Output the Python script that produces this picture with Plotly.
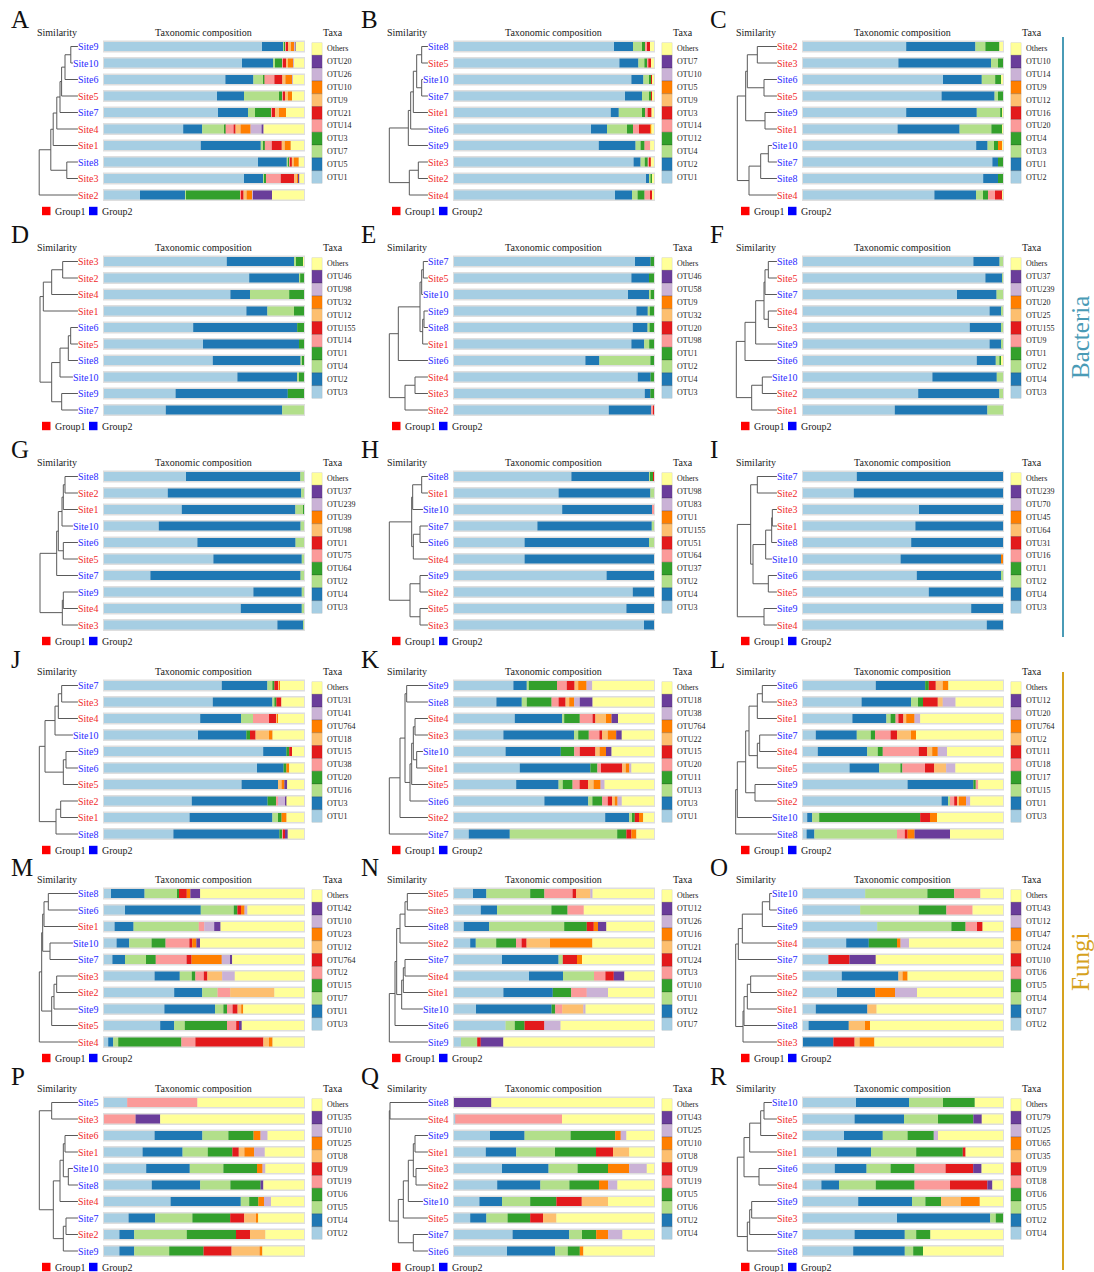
import plotly.graph_objects as go

W, H = 1094, 1272

# stacking colours: first taxon (bottom of the key) ... last = Others
PALETTE = ["#a6cee3", "#1f78b4", "#b2df8a", "#33a02c", "#fb9a99", "#e31a1c",
           "#fdbf6f", "#ff7f00", "#cab2d6", "#6a3d9a", "#ffff99"]

GROUP1 = ["Site1", "Site2", "Site3", "Site4", "Site5"]
P_GROUP1 = ["Site1", "Site2", "Site3", "Site4", "Site6"]

# ---------------- Bacteria ----------------
A_SITES = ["Site9", "Site10", "Site6", "Site5", "Site7", "Site4", "Site1", "Site8", "Site3", "Site2"]
A_TAXA = ["OTU1", "OTU5", "OTU7", "OTU3", "OTU14", "OTU21", "OTU9", "OTU10", "OTU26", "OTU20", "Others"]
A_VALUES = [
    [79.0, 10.5, 0.5, 0.5, 0.5, 1.0, 1.5, 1.5, 0.5, 0.3, 4.2],
    [69.0, 15.5, 1.0, 3.5, 0.5, 1.5, 1.0, 2.5, 0.5, 0.0, 5.0],
    [60.7, 14.0, 5.0, 0.5, 5.0, 4.0, 1.5, 3.5, 0.3, 0.0, 5.5],
    [56.5, 13.5, 17.5, 1.5, 0.5, 1.0, 1.5, 2.0, 0.0, 0.0, 6.0],
    [57.0, 15.0, 3.5, 8.0, 0.5, 1.5, 2.0, 3.5, 0.0, 0.0, 9.0],
    [39.6, 9.5, 11.0, 0.7, 4.0, 1.0, 2.5, 5.0, 5.5, 1.0, 20.2],
    [48.4, 30.0, 1.5, 0.5, 3.5, 5.0, 1.5, 3.0, 0.0, 0.0, 6.6],
    [77.0, 14.4, 1.0, 0.5, 0.5, 0.5, 1.0, 2.5, 0.0, 0.0, 2.6],
    [70.0, 9.5, 0.5, 1.0, 7.4, 6.7, 1.5, 0.5, 0.0, 0.5, 2.4],
    [18.0, 22.5, 0.5, 27.0, 0.5, 1.3, 1.5, 3.0, 0.2, 9.5, 16.0],
]
A_TREE = [1.02, [0.73, [0.67, [0.58, [0.50, [0.46, [0.375, [0.23, "Site9", "Site10"], "Site6"], "Site5"],
                                     "Site7"], "Site4"], "Site1"], [0.33, "Site8", "Site3"]], "Site2"]

B_SITES = ["Site8", "Site5", "Site10", "Site7", "Site1", "Site6", "Site9", "Site3", "Site2", "Site4"]
B_TAXA = ["OTU1", "OTU2", "OTU4", "OTU12", "OTU14", "OTU3", "OTU9", "OTU5", "OTU10", "OTU7", "Others"]
B_VALUES = [
    [80.0, 9.5, 4.5, 1.5, 1.0, 1.5, 0, 0, 0, 0, 2.0],
    [82.7, 9.5, 3.0, 1.5, 0.5, 1.3, 0, 0, 0, 0, 1.5],
    [88.7, 6.0, 2.8, 1.0, 0, 0.5, 0, 0, 0, 0, 1.0],
    [85.5, 8.5, 3.5, 1.0, 0, 0.5, 0, 0, 0, 0, 1.0],
    [78.4, 4.0, 11.6, 1.5, 1.3, 2.0, 0, 0, 0, 0, 1.2],
    [68.5, 8.0, 10.0, 3.0, 3.0, 5.6, 0, 0.5, 0, 0, 1.4],
    [72.4, 18.4, 2.5, 2.0, 2.8, 0, 0, 0, 0, 0, 1.9],
    [89.8, 3.5, 2.1, 1.5, 1.0, 0.5, 0, 0, 0, 0, 1.6],
    [96.0, 1.8, 0.5, 1.0, 0, 0, 0, 0, 0, 0, 0.7],
    [80.5, 8.5, 2.8, 3.5, 2.8, 0.9, 0, 0, 0, 0, 1.0],
]
B_TREE = [1.017, [0.542, [0.483, [0.417, [0.333, [0.208, "Site8", "Site5"], [0.208, "Site10", "Site7"]],
                                  "Site1"], "Site6"], "Site9"], [0.517, [0.292, "Site3", "Site2"], "Site4"]]

C_SITES = ["Site2", "Site3", "Site6", "Site5", "Site9", "Site1", "Site10", "Site7", "Site8", "Site4"]
C_TAXA = ["OTU2", "OTU1", "OTU3", "OTU4", "OTU20", "OTU16", "OTU12", "OTU9", "OTU14", "OTU10", "Others"]
C_VALUES = [
    [51.6, 34.6, 5.0, 7.0, 0, 0, 0, 0, 0, 0, 1.8],
    [47.7, 46.3, 3.5, 2.5, 0, 0, 0, 0, 0, 0, 0],
    [70.0, 19.4, 6.7, 3.2, 0, 0, 0, 0, 0, 0, 0.7],
    [69.3, 26.5, 1.7, 2.5, 0, 0, 0, 0, 0, 0, 0],
    [51.6, 35.3, 11.7, 1.0, 0, 0, 0, 0, 0, 0, 0.4],
    [47.3, 31.0, 15.9, 5.7, 0, 0, 0, 0, 0, 0, 0.1],
    [86.6, 5.7, 3.2, 2.0, 0, 0, 0, 2.0, 0, 0, 0.5],
    [94.7, 2.8, 0, 2.5, 0, 0, 0, 0, 0, 0, 0],
    [90.1, 7.4, 0, 2.5, 0, 0, 0, 0, 0, 0, 0],
    [65.7, 20.8, 3.5, 2.5, 3.5, 3.9, 0, 0, 0, 0, 0.1],
]
C_TREE = [1.042, [0.833, [0.792, [0.542, "Site2", "Site3"], [0.375, "Site6", "Site5"]], [0.35, "Site9", "Site1"]],
          [0.75, [0.458, [0.267, "Site10", "Site7"], "Site8"], "Site4"]]

D_SITES = ["Site3", "Site2", "Site4", "Site1", "Site6", "Site5", "Site8", "Site10", "Site9", "Site7"]
D_TAXA = ["OTU3", "OTU2", "OTU4", "OTU1", "OTU14", "OTU155", "OTU12", "OTU32", "OTU98", "OTU46", "Others"]
D_VALUES = [
    [61.4, 34.0, 0.6, 3.5, 0, 0, 0, 0, 0, 0, 0.5],
    [72.6, 25.0, 0.5, 1.9, 0, 0, 0, 0, 0, 0, 0],
    [63.2, 9.8, 19.6, 7.4, 0, 0, 0, 0, 0, 0, 0],
    [71.2, 10.5, 13.3, 5.0, 0, 0, 0, 0, 0, 0, 0],
    [44.6, 52.0, 0, 3.4, 0, 0, 0, 0, 0, 0, 0],
    [49.5, 48.0, 0, 2.5, 0, 0, 0, 0, 0, 0, 0],
    [54.4, 43.9, 1.0, 0.7, 0, 0, 0, 0, 0, 0, 0],
    [66.7, 29.8, 1.0, 2.5, 0, 0, 0, 0, 0, 0, 0],
    [35.8, 56.1, 0, 8.1, 0, 0, 0, 0, 0, 0, 0],
    [30.9, 58.2, 10.9, 0, 0, 0, 0, 0, 0, 0, 0],
]
D_TREE = [1.0, [0.917, [0.708, [0.433, "Site3", "Site2"], "Site4"], "Site1"],
          [0.708, [0.5, [0.292, [0.233, "Site6", "Site5"], "Site8"], "Site10"], [0.458, "Site9", "Site7"]]]

E_SITES = ["Site7", "Site5", "Site10", "Site9", "Site8", "Site1", "Site6", "Site4", "Site3", "Site2"]
E_TAXA = ["OTU3", "OTU4", "OTU2", "OTU1", "OTU98", "OTU20", "OTU32", "OTU9", "OTU58", "OTU46", "Others"]
E_VALUES = [
    [90.5, 7.8, 0, 1.7, 0, 0, 0, 0, 0, 0, 0],
    [88.7, 8.8, 0, 2.5, 0, 0, 0, 0, 0, 0, 0],
    [87.0, 10.6, 0.8, 1.6, 0, 0, 0, 0, 0, 0, 0],
    [91.2, 5.7, 1.0, 2.1, 0, 0, 0, 0, 0, 0, 0],
    [89.4, 7.4, 1.0, 2.2, 0, 0, 0, 0, 0, 0, 0],
    [88.7, 6.4, 2.5, 2.4, 0, 0, 0, 0, 0, 0, 0],
    [65.7, 7.0, 25.5, 1.8, 0, 0, 0, 0, 0, 0, 0],
    [91.9, 6.4, 0, 1.7, 0, 0, 0, 0, 0, 0, 0],
    [95.4, 2.8, 0, 1.8, 0, 0, 0, 0, 0, 0, 0],
    [77.4, 21.2, 0, 0, 1.0, 0.4, 0, 0, 0, 0, 0],
]
E_TREE = [1.017, [0.792, [0.25, [0.208, [0.167, "Site7", "Site5"], "Site10"],
                          [0.183, [0.15, "Site9", "Site8"], "Site1"]], "Site6"],
          [0.625, [0.375, "Site4", "Site3"], "Site2"]]

F_SITES = ["Site8", "Site5", "Site7", "Site4", "Site3", "Site9", "Site6", "Site10", "Site2", "Site1"]
F_TAXA = ["OTU3", "OTU4", "OTU2", "OTU1", "OTU9", "OTU155", "OTU25", "OTU20", "OTU239", "OTU37", "Others"]
F_VALUES = [
    [85.2, 13.1, 1.7, 0, 0, 0, 0, 0, 0, 0, 0],
    [91.2, 8.5, 0.3, 0, 0, 0, 0, 0, 0, 0, 0],
    [77.0, 19.8, 3.2, 0, 0, 0, 0, 0, 0, 0, 0],
    [93.3, 6.0, 0.7, 0, 0, 0, 0, 0, 0, 0, 0],
    [83.4, 15.9, 0.7, 0, 0, 0, 0, 0, 0, 0, 0],
    [93.3, 6.0, 0.7, 0, 0, 0, 0, 0, 0, 0, 0],
    [86.9, 9.5, 1.8, 1.0, 0, 0, 0, 0, 0, 0, 0.8],
    [64.7, 32.2, 3.1, 0, 0, 0, 0, 0, 0, 0, 0],
    [57.6, 40.6, 1.8, 0, 0, 0, 0, 0, 0, 0, 0],
    [45.9, 46.3, 7.8, 0, 0, 0, 0, 0, 0, 0, 0],
]
F_TREE = [1.067, [0.85, [0.583, [0.375, [0.35, [0.267, "Site8", "Site5"], "Site7"], [0.267, "Site4", "Site3"]],
                         "Site9"], "Site6"], [0.683, [0.417, "Site10", "Site2"], "Site1"]]

G_SITES = ["Site8", "Site2", "Site1", "Site10", "Site6", "Site5", "Site7", "Site9", "Site4", "Site3"]
G_TAXA = ["OTU3", "OTU4", "OTU2", "OTU64", "OTU75", "OTU1", "OTU98", "OTU39", "OTU239", "OTU37", "Others"]
G_VALUES = [
    [41.0, 57.2, 1.8, 0, 0, 0, 0, 0, 0, 0, 0],
    [31.9, 66.7, 1.4, 0, 0, 0, 0, 0, 0, 0, 0],
    [38.9, 56.8, 4.2, 0.1, 0, 0, 0, 0, 0, 0, 0],
    [27.4, 70.9, 1.7, 0, 0, 0, 0, 0, 0, 0, 0],
    [46.7, 49.1, 4.2, 0, 0, 0, 0, 0, 0, 0, 0],
    [54.7, 44.2, 1.1, 0, 0, 0, 0, 0, 0, 0, 0],
    [23.2, 75.1, 1.7, 0, 0, 0, 0, 0, 0, 0, 0],
    [74.7, 24.2, 1.1, 0, 0, 0, 0, 0, 0, 0, 0],
    [68.4, 30.5, 1.1, 0, 0, 0, 0, 0, 0, 0, 0],
    [86.7, 13.0, 0.3, 0, 0, 0, 0, 0, 0, 0, 0],
]
G_TREE = [1.0, [0.583, [0.542, [0.45, [0.417, [0.375, "Site8", "Site2"], "Site1"], "Site10"],
                        [0.417, "Site6", "Site5"]], "Site7"], [0.442, [0.417, "Site9", "Site4"], "Site3"]]

H_SITES = ["Site8", "Site1", "Site10", "Site7", "Site6", "Site4", "Site9", "Site2", "Site5", "Site3"]
H_TAXA = ["OTU3", "OTU4", "OTU2", "OTU37", "OTU64", "OTU51", "OTU155", "OTU1", "OTU83", "OTU98", "Others"]
H_VALUES = [
    [58.7, 38.9, 0.4, 1.6, 0, 0.4, 0, 0, 0, 0, 0],
    [52.3, 45.9, 1.8, 0, 0, 0, 0, 0, 0, 0, 0],
    [54.1, 44.9, 0, 0, 1.0, 0, 0, 0, 0, 0, 0],
    [41.7, 57.2, 1.1, 0, 0, 0, 0, 0, 0, 0, 0],
    [35.3, 62.2, 2.5, 0, 0, 0, 0, 0, 0, 0, 0],
    [35.3, 64.7, 0, 0, 0, 0, 0, 0, 0, 0, 0],
    [76.3, 23.7, 0, 0, 0, 0, 0, 0, 0, 0, 0],
    [89.4, 10.6, 0, 0, 0, 0, 0, 0, 0, 0, 0],
    [86.2, 13.8, 0, 0, 0, 0, 0, 0, 0, 0, 0],
    [95.0, 5.0, 0, 0, 0, 0, 0, 0, 0, 0, 0],
]
H_TREE = [1.017, [0.458, [0.433, [0.208, "Site8", "Site1"], "Site10"], [0.417, [0.25, "Site7", "Site6"], "Site4"]],
          [0.5, [0.25, "Site9", "Site2"], [0.25, "Site5", "Site3"]]]

I_SITES = ["Site7", "Site2", "Site3", "Site1", "Site8", "Site10", "Site6", "Site5", "Site9", "Site4"]
I_TAXA = ["OTU3", "OTU4", "OTU2", "OTU1", "OTU16", "OTU31", "OTU64", "OTU45", "OTU70", "OTU239", "Others"]
I_VALUES = [
    [26.9, 73.1, 0, 0, 0, 0, 0, 0, 0, 0, 0],
    [25.4, 74.6, 0, 0, 0, 0, 0, 0, 0, 0, 0],
    [58.0, 42.0, 0, 0, 0, 0, 0, 0, 0, 0, 0],
    [56.2, 43.8, 0, 0, 0, 0, 0, 0, 0, 0, 0],
    [54.1, 45.9, 0, 0, 0, 0, 0, 0, 0, 0, 0],
    [48.8, 50.2, 0, 0, 0, 0, 0, 1.0, 0, 0, 0],
    [56.9, 42.4, 0.7, 0, 0, 0, 0, 0, 0, 0, 0],
    [62.9, 37.1, 0, 0, 0, 0, 0, 0, 0, 0, 0],
    [84.1, 15.9, 0, 0, 0, 0, 0, 0, 0, 0, 0],
    [91.9, 8.1, 0, 0, 0, 0, 0, 0, 0, 0, 0],
]
I_TREE = [1.042, [0.708, [0.542, "Site7", "Site2"],
                  [0.65, [0.333, [0.183, [0.167, "Site3", "Site1"], "Site8"], "Site10"], [0.267, "Site6", "Site5"]]],
          [0.375, "Site9", "Site4"]]

# ---------------- Fungi ----------------
J_SITES = ["Site7", "Site3", "Site4", "Site10", "Site9", "Site6", "Site5", "Site2", "Site1", "Site8"]
J_TAXA = ["OTU1", "OTU3", "OTU16", "OTU20", "OTU38", "OTU15", "OTU18", "OTU764", "OTU41", "OTU31", "Others"]
J_VALUES = [
    [58.9, 22.8, 2.5, 1.0, 0, 1.8, 0.5, 0.5, 0, 0, 12.0],
    [54.4, 29.8, 1.0, 1.0, 0, 2.5, 0, 0, 0, 0, 11.3],
    [48.1, 20.4, 6.0, 0, 8.0, 3.5, 0.5, 0.5, 0, 0, 13.0],
    [47.0, 24.2, 0, 1.8, 0, 2.8, 6.7, 1.8, 0, 0, 15.7],
    [79.6, 11.6, 0, 1.4, 0, 1.4, 0, 0, 0, 0, 6.0],
    [76.5, 13.3, 0, 1.4, 0, 0, 0, 1.4, 0, 0, 7.4],
    [68.8, 18.2, 0, 0, 0, 0, 1.8, 1.4, 0, 1.4, 8.4],
    [43.9, 37.9, 0, 4.2, 1.0, 0, 0, 0, 3.5, 0.7, 8.8],
    [42.8, 41.4, 2.8, 1.8, 0, 0, 0, 2.5, 0, 0, 8.7],
    [34.7, 53.0, 0, 1.4, 0.7, 0.7, 0, 0, 0, 1.4, 8.1],
]
J_TREE = [1.017, [0.875, [0.625, [0.542, [0.458, "Site7", "Site3"], "Site4"], "Site10"],
                  [0.417, [0.35, "Site9", "Site6"], "Site5"]], [0.6, [0.483, "Site2", "Site1"], "Site8"]]

K_SITES = ["Site9", "Site8", "Site4", "Site3", "Site10", "Site1", "Site5", "Site6", "Site2", "Site7"]
K_TAXA = ["OTU1", "OTU3", "OTU13", "OTU11", "OTU20", "OTU15", "OTU22", "OTU764", "OTU38", "OTU18", "Others"]
K_VALUES = [
    [29.7, 6.7, 1.0, 14.1, 4.9, 3.9, 1.8, 4.2, 2.8, 0, 30.9],
    [21.2, 12.7, 2.5, 12.4, 3.5, 3.5, 1.8, 2.5, 2.8, 6.4, 30.7],
    [30.4, 23.7, 1.0, 7.8, 6.4, 1.4, 5.3, 2.8, 0, 3.2, 18.0],
    [24.7, 35.3, 2.1, 5.3, 5.3, 1.4, 2.8, 4.2, 0, 2.8, 16.1],
    [25.8, 27.6, 0, 6.7, 2.8, 7.8, 2.1, 3.2, 0, 2.8, 21.2],
    [32.9, 35.3, 0, 3.5, 1.8, 10.6, 1.8, 1.8, 1.0, 0, 11.3],
    [31.1, 21.2, 2.1, 4.9, 3.5, 4.2, 2.8, 3.5, 2.0, 0, 24.7],
    [45.2, 21.9, 2.1, 4.9, 2.8, 2.1, 1.4, 1.4, 2.1, 0, 16.1],
    [75.6, 12.0, 1.4, 1.4, 0, 2.1, 0, 2.1, 0, 0, 5.4],
    [7.4, 20.5, 53.7, 4.6, 0, 2.5, 0, 2.5, 0, 0, 8.8],
]
K_TREE = [1.017, [0.75, [0.625, [0.583, "Site9", "Site8"],
                         [0.5, [0.458, [0.417, [0.375, "Site4", "Site3"], [0.333, "Site10", "Site1"]], "Site5"],
                          "Site6"]], "Site2"], "Site7"]

L_SITES = ["Site6", "Site3", "Site1", "Site7", "Site4", "Site5", "Site9", "Site2", "Site10", "Site8"]
L_TAXA = ["OTU3", "OTU1", "OTU15", "OTU17", "OTU18", "OTU11", "OTU2", "OTU764", "OTU20", "OTU12", "Others"]
L_VALUES = [
    [36.4, 24.7, 0, 1.8, 0, 3.5, 3.5, 2.8, 0, 0, 27.3],
    [29.3, 24.7, 3.5, 2.5, 0, 7.4, 2.5, 0, 6.4, 0, 23.7],
    [24.7, 17.0, 2.1, 2.5, 1.4, 2.5, 1.4, 4.2, 2.8, 0, 41.4],
    [6.4, 20.5, 7.0, 2.1, 7.8, 3.2, 7.0, 2.5, 0, 0, 43.5],
    [7.4, 24.7, 5.3, 2.5, 18.0, 4.2, 2.5, 2.8, 4.6, 0, 28.0],
    [23.3, 14.8, 10.6, 1.0, 11.3, 4.6, 6.0, 0, 4.6, 0, 23.8],
    [52.3, 32.9, 0, 1.2, 1.2, 0, 0, 0, 0, 0, 12.4],
    [69.3, 3.2, 1.0, 0, 2.1, 1.4, 1.0, 3.5, 2.1, 0, 16.4],
    [2.1, 2.5, 3.5, 50.5, 0, 4.9, 0, 3.5, 0, 0, 33.0],
    [1.8, 3.9, 41.3, 0, 3.9, 1.4, 0, 3.5, 0, 17.7, 26.5],
]
L_TREE = [1.083, [1.042, [0.833, [0.75, [0.542, [0.417, "Site6", "Site3"], "Site1"],
                                  [0.542, [0.483, "Site7", "Site4"], "Site5"]], [0.6, "Site9", "Site2"]],
                  "Site10"], "Site8"]

M_SITES = ["Site8", "Site6", "Site1", "Site10", "Site7", "Site3", "Site2", "Site9", "Site5", "Site4"]
M_TAXA = ["OTU3", "OTU1", "OTU7", "OTU15", "OTU2", "OTU764", "OTU12", "OTU23", "OTU10", "OTU42", "Others"]
M_VALUES = [
    [3.5, 16.8, 16.5, 0.7, 0, 3.9, 0, 1.8, 0, 4.9, 51.9],
    [10.5, 37.9, 16.5, 1.8, 0, 1.8, 0, 1.8, 1.4, 0, 28.3],
    [5.3, 9.5, 32.6, 0, 2.8, 0, 0, 0, 4.9, 3.2, 41.7],
    [6.3, 6.3, 11.2, 7.0, 11.9, 1.4, 0, 2.1, 0, 1.8, 52.0],
    [4.2, 6.3, 10.5, 4.9, 15.4, 2.5, 0, 15.1, 4.2, 1.0, 35.9],
    [25.3, 12.6, 6.0, 1.8, 4.2, 1.8, 7.4, 0, 6.3, 0, 34.6],
    [35.1, 14.0, 7.7, 0, 6.3, 0, 22.1, 0, 0, 0, 14.8],
    [30.2, 25.3, 4.2, 1.8, 2.8, 2.5, 1.8, 1.0, 0, 0, 30.4],
    [28.1, 7.0, 5.3, 21.1, 4.6, 1.4, 0, 0, 0, 1.4, 31.1],
    [2.1, 2.5, 2.5, 31.6, 7.0, 34.0, 2.8, 1.8, 0, 0, 15.7],
]
M_TREE = [1.017, [0.958, [0.933, [0.9, [0.792, "Site8", "Site6"], "Site1"], [0.75, "Site10", "Site7"]],
                  [0.708, [0.65, [0.583, "Site3", "Site2"], "Site9"], "Site5"]], "Site4"]

N_SITES = ["Site5", "Site3", "Site8", "Site2", "Site7", "Site4", "Site1", "Site10", "Site6", "Site9"]
N_TAXA = ["OTU7", "OTU2", "OTU1", "OTU10", "OTU3", "OTU24", "OTU21", "OTU16", "OTU26", "OTU12", "Others"]
N_VALUES = [
    [9.5, 6.7, 21.9, 7.1, 14.1, 1.8, 7.1, 0, 1.1, 0, 30.7],
    [13.4, 8.1, 27.2, 8.1, 8.1, 0, 0, 0, 0, 0, 35.1],
    [4.9, 12.7, 37.5, 11.3, 0, 3.5, 0, 2.1, 0, 4.2, 23.8],
    [8.1, 2.8, 10.2, 9.9, 2.8, 2.5, 11.7, 21.2, 0, 0, 30.8],
    [24.0, 28.3, 2.1, 0, 0, 7.1, 0, 2.5, 0, 0, 36.0],
    [37.5, 17.0, 15.5, 0, 5.7, 4.2, 0, 0, 0, 5.3, 14.8],
    [24.7, 24.7, 0, 9.2, 7.8, 0, 0, 0, 10.6, 0, 23.0],
    [11.0, 37.8, 0, 1.8, 3.5, 0, 10.6, 0, 1.1, 0, 34.2],
    [25.8, 0, 4.6, 4.9, 0, 9.9, 0, 0, 8.1, 0, 46.7],
    [3.5, 0, 8.1, 0, 0, 1.8, 0, 0, 0, 11.3, 75.3],
]
N_TREE = [1.017, [0.875, [0.833, [0.75, [0.625, [0.567, "Site5", "Site3"], "Site8"], "Site2"],
                          [0.708, [0.667, [0.625, "Site7", "Site4"], "Site1"], "Site10"]], "Site6"], "Site9"]

O_SITES = ["Site10", "Site6", "Site9", "Site4", "Site7", "Site5", "Site2", "Site1", "Site8", "Site3"]
O_TAXA = ["OTU2", "OTU7", "OTU4", "OTU5", "OTU6", "OTU10", "OTU24", "OTU47", "OTU12", "OTU43", "Others"]
O_VALUES = [
    [31.1, 0, 31.1, 13.4, 13.1, 0, 0, 0, 0, 0, 11.3],
    [28.6, 0, 29.3, 13.8, 13.1, 0, 0, 0, 0, 0, 15.2],
    [37.1, 0, 37.1, 7.1, 5.7, 2.8, 0, 0, 0, 0, 10.2],
    [21.6, 11.3, 0, 14.1, 0, 0, 0, 1.8, 4.2, 0, 47.0],
    [12.7, 0, 0, 0, 0, 10.6, 0, 0, 0, 13.1, 63.6],
    [19.4, 28.3, 0, 0, 0, 0, 2.1, 2.5, 0, 0, 47.7],
    [17.0, 19.1, 0, 0, 0, 0, 0, 9.9, 11.0, 0, 43.0],
    [6.4, 25.8, 0, 0, 0, 0, 4.6, 0, 0, 0, 63.2],
    [2.8, 20.1, 0, 0, 0, 0, 8.1, 2.5, 0, 0, 66.5],
    [0, 15.2, 0, 0, 0, 10.6, 2.5, 7.4, 0, 0, 64.3],
]
O_TREE = [1.083, [1.017, [0.917, [0.417, [0.233, "Site10", "Site6"], "Site9"], "Site4"], "Site7"],
          [0.9, [0.875, [0.792, [0.708, "Site5", "Site2"], "Site1"], "Site8"], "Site3"]]

P_SITES = ["Site5", "Site3", "Site6", "Site1", "Site10", "Site8", "Site4", "Site7", "Site2", "Site9"]
P_TAXA = ["OTU2", "OTU4", "OTU5", "OTU6", "OTU19", "OTU9", "OTU8", "OTU25", "OTU10", "OTU35", "Others"]
P_VALUES = [
    [11.6, 0, 0, 0, 35.1, 0, 0, 0, 0, 0, 53.3],
    [0, 0, 0, 0, 15.8, 0, 0, 0, 0, 12.3, 71.9],
    [25.3, 23.9, 13.0, 12.6, 0, 0, 0, 3.5, 3.5, 0, 18.2],
    [19.3, 20.0, 12.6, 12.3, 0, 3.2, 2.8, 4.9, 5.3, 0, 19.6],
    [21.1, 21.8, 16.8, 16.8, 0, 0, 0, 2.8, 1.4, 0, 19.3],
    [23.9, 24.2, 15.1, 15.1, 0, 0, 0, 0, 0, 1.4, 20.3],
    [33.3, 35.1, 4.2, 4.6, 0, 0, 0, 2.8, 3.5, 0, 16.5],
    [12.3, 13.3, 18.6, 18.9, 0, 7.0, 6.3, 0.7, 0, 0, 22.9],
    [7.7, 7.4, 26.3, 24.6, 0, 7.0, 7.7, 0, 0, 0, 19.3],
    [7.7, 7.4, 17.5, 17.2, 0, 14.0, 14.0, 1.4, 0, 0, 20.8],
]
P_TREE = [1.017, [0.708, "Site5", "Site3"],
          [0.667, [0.5, [0.417, [0.375, "Site6", "Site1"], [0.292, "Site10", "Site8"]], "Site4"],
           [0.417, [0.35, "Site7", "Site2"], "Site9"]]]

Q_SITES = ["Site8", "Site4", "Site9", "Site1", "Site3", "Site2", "Site10", "Site5", "Site7", "Site6"]
Q_TAXA = ["OTU4", "OTU2", "OTU6", "OTU5", "OTU19", "OTU9", "OTU8", "OTU10", "OTU25", "OTU43", "Others"]
Q_VALUES = [
    [0, 0, 0, 0, 0, 0, 0, 0, 0, 18.7, 81.3],
    [0.6, 0, 0, 0, 53.4, 0, 0, 0, 0, 0, 46.0],
    [18.0, 17.3, 23.0, 22.3, 0, 0, 0, 2.8, 2.8, 0, 13.8],
    [15.9, 15.2, 19.4, 20.5, 0, 8.5, 8.1, 0, 0, 0, 12.4],
    [24.0, 23.3, 14.5, 15.2, 0, 0, 0, 10.6, 8.8, 0, 3.6],
    [21.6, 21.6, 14.5, 14.8, 0, 0, 0, 4.6, 4.6, 0, 18.3],
    [12.7, 11.3, 14.1, 13.1, 0, 12.7, 13.1, 0, 0, 0, 23.0],
    [8.1, 8.1, 10.6, 11.3, 0, 6.4, 6.7, 0, 0, 0, 48.8],
    [29.3, 28.3, 6.4, 7.1, 0, 0, 0, 6.0, 7.1, 0, 15.8],
    [26.5, 24.0, 6.4, 6.0, 0, 0, 0, 1.8, 0, 0, 35.3],
]
Q_TREE = [1.017, [1.0, "Site8", "Site4"],
          [0.792, [0.667, [0.542, [0.417, [0.375, "Site9", "Site1"], [0.35, "Site3", "Site2"]], "Site10"], "Site5"],
           [0.417, "Site7", "Site6"]]]

R_SITES = ["Site10", "Site5", "Site2", "Site1", "Site6", "Site4", "Site9", "Site3", "Site7", "Site8"]
R_TAXA = ["OTU4", "OTU2", "OTU5", "OTU6", "OTU8", "OTU9", "OTU35", "OTU65", "OTU25", "OTU79", "Others"]
R_VALUES = [
    [26.5, 26.5, 17.0, 15.9, 0, 0, 0, 0, 0, 0, 14.1],
    [25.8, 24.7, 17.0, 17.7, 0, 0, 0, 0, 0, 4.2, 10.6],
    [20.5, 19.4, 12.4, 13.1, 0, 0, 0, 0, 2.1, 0, 32.5],
    [17.0, 17.0, 22.6, 23.3, 0, 1.4, 0, 0, 0, 0, 18.7],
    [15.9, 15.9, 12.0, 12.0, 15.5, 13.8, 0, 0, 0, 4.2, 10.7],
    [9.2, 8.8, 18.4, 19.4, 17.7, 18.7, 0, 0, 0, 2.5, 5.3],
    [27.6, 26.9, 6.7, 7.8, 0, 0, 9.9, 9.5, 0, 0, 11.6],
    [47.0, 46.6, 2.8, 3.6, 0, 0, 0, 0, 0, 0, 0],
    [25.8, 25.1, 5.7, 7.1, 0, 0, 0, 0, 0, 0, 36.3],
    [25.1, 25.8, 4.2, 4.9, 0, 0, 0, 0, 0, 0, 40.0],
]
R_TREE = [1.042, [0.875, [0.733, [0.458, [0.375, "Site10", "Site5"], "Site2"], "Site1"], [0.5, "Site6", "Site4"]],
          [0.792, [0.733, [0.683, "Site9", "Site3"], "Site7"], "Site8"]]

PANELS = [
    ("A", A_SITES, A_TAXA, A_VALUES, A_TREE, GROUP1),
    ("B", B_SITES, B_TAXA, B_VALUES, B_TREE, GROUP1),
    ("C", C_SITES, C_TAXA, C_VALUES, C_TREE, GROUP1),
    ("D", D_SITES, D_TAXA, D_VALUES, D_TREE, GROUP1),
    ("E", E_SITES, E_TAXA, E_VALUES, E_TREE, GROUP1),
    ("F", F_SITES, F_TAXA, F_VALUES, F_TREE, GROUP1),
    ("G", G_SITES, G_TAXA, G_VALUES, G_TREE, GROUP1),
    ("H", H_SITES, H_TAXA, H_VALUES, H_TREE, GROUP1),
    ("I", I_SITES, I_TAXA, I_VALUES, I_TREE, GROUP1),
    ("J", J_SITES, J_TAXA, J_VALUES, J_TREE, GROUP1),
    ("K", K_SITES, K_TAXA, K_VALUES, K_TREE, GROUP1),
    ("L", L_SITES, L_TAXA, L_VALUES, L_TREE, GROUP1),
    ("M", M_SITES, M_TAXA, M_VALUES, M_TREE, GROUP1),
    ("N", N_SITES, N_TAXA, N_VALUES, N_TREE, GROUP1),
    ("O", O_SITES, O_TAXA, O_VALUES, O_TREE, GROUP1),
    ("P", P_SITES, P_TAXA, P_VALUES, P_TREE, P_GROUP1),
    ("Q", Q_SITES, Q_TAXA, Q_VALUES, Q_TREE, GROUP1),
    ("R", R_SITES, R_TAXA, R_VALUES, R_TREE, GROUP1),
]

# ---------------- layout geometry (pixels) ----------------
COL_X = [0, 350, 699]
ROW_Y = [0, 215, 430, 639, 847, 1056]
ROW0, ROW_STEP = 46.5, 16.5
SERIF = "Liberation Serif, Times New Roman, serif"
RED_TXT, BLUE_TXT = "#f02a2a", "#2a2aff"
BACT_COL, FUNGI_COL = "#4a9bb6", "#d6a21e"


def px(x):
    return x / W


def py(y):
    return 1 - y / H


def label_width(name, size=10):
    # approximate advance width of "SiteN" in a Times-metric font
    digits = len(name) - 4
    return size * (1.556 + 0.5 * digits)


def tree_lines(node, order, tips, xs, ys):
    if isinstance(node, str):
        return order.index(node), tips[node]
    h, left, right = node
    y1, d1 = tree_lines(left, order, tips, xs, ys)
    y2, d2 = tree_lines(right, order, tips, xs, ys)
    xs += [d1, h, None, d2, h, None, h, h, None]
    ys += [y1, y1, None, y2, y2, None, y1, y2, None]
    return (y1 + y2) / 2, h


fig = go.Figure()
axes = {}
annotations = []
shapes = []


def key(prefix, n):
    return f"{prefix}axis" if n == 1 else f"{prefix}axis{n}"


def ref(prefix, n):
    return prefix if n == 1 else f"{prefix}{n}"


def text(t, x, y, size=10, color="#1a1a1a", xanchor="left", yref="paper", **kw):
    annotations.append(dict(text=t, x=x, y=y, xref="paper", yref=yref, xanchor=xanchor,
                            yanchor="middle", showarrow=False, borderpad=0,
                            font=dict(family=SERIF, size=size, color=color), **kw))


hidden = dict(visible=False, fixedrange=True, showgrid=False, zeroline=False)

for k, (letter, sites, taxa, values, tree, group1) in enumerate(PANELS):
    r, c = divmod(k, 3)
    ox, oy = COL_X[c], ROW_Y[r]
    xb, xd, xl = 3 * k + 1, 3 * k + 2, 3 * k + 3
    yb, yl = 2 * k + 1, 2 * k + 2
    n = len(sites)
    top = oy + ROW0 - ROW_STEP / 2
    bottom = oy + ROW0 + (n - 1) * ROW_STEP + ROW_STEP / 2

    axes[key("x", xb)] = dict(domain=[px(ox + 103), px(ox + 305)], range=[-0.5, 100.5], **hidden)
    axes[key("x", xd)] = dict(domain=[px(ox + 36), px(ox + 100)], range=[1.1, -0.5], **hidden)
    axes[key("x", xl)] = dict(domain=[px(ox + 311.6), px(ox + 322.4)], range=[0, 1], **hidden)
    axes[key("y", yb)] = dict(domain=[py(bottom), py(top)], range=[n - 0.5, -0.5], **hidden)
    axes[key("y", yl)] = dict(domain=[py(oy + 183.5), py(oy + 42.5)], range=[10.5, -0.5], **hidden)

    rows = list(range(n))
    # bar frame
    fig.add_bar(x=[101] * n, base=-0.5, y=rows, orientation="h", width=0.72,
                marker=dict(color="#dedede", line_width=0),
                xaxis=ref("x", xb), yaxis=ref("y", yb), hoverinfo="skip")
    # stacked relative abundances
    scaled = [[v * 100.0 / sum(row) for v in row] for row in values]
    starts = [0.0] * n
    for j in range(len(taxa)):
        seg = [row[j] for row in scaled]
        fig.add_bar(x=seg, base=list(starts), y=rows, orientation="h", width=0.56,
                    marker=dict(color=PALETTE[j], line_width=0), name=taxa[j],
                    xaxis=ref("x", xb), yaxis=ref("y", yb), hoverinfo="skip")
        starts = [s + v for s, v in zip(starts, seg)]

    # dendrogram
    tips = {s: (80 - (100 - label_width(s) - 1.5)) / 40 for s in sites}
    xs, ys = [], []
    tree_lines(tree, sites, tips, xs, ys)
    fig.add_scatter(x=xs, y=ys, mode="lines", line=dict(color="#5a5a5a", width=1),
                    xaxis=ref("x", xd), yaxis=ref("y", yb), hoverinfo="skip")

    # taxa key
    fig.add_bar(x=[1] * len(taxa), y=list(range(len(taxa))), orientation="h", width=1,
                marker=dict(color=PALETTE[::-1], line=dict(color="rgba(0,0,0,0.28)", width=0.6)),
                xaxis=ref("x", xl), yaxis=ref("y", yl), hoverinfo="skip")
    for i, t in enumerate(taxa[::-1]):
        text(t, px(ox + 325.5), i, size=8, yref=ref("y", yl))

    # site labels
    for i, s in enumerate(sites):
        text(s, px(ox + 100), i, size=10, color=RED_TXT if s in group1 else BLUE_TXT,
             xanchor="right", yref=ref("y", yb))

    # headings
    text(letter, px(ox + 10), py(oy + 20), size=25, color="#111")
    text("Similarity", px(ox + 36), py(oy + 32.5))
    text("Taxonomic composition", px(ox + 203), py(oy + 32.5), xanchor="center")
    text("Taxa", px(ox + 333), py(oy + 32.5), xanchor="center")

    # group key
    gy = oy + 211
    for gx, col, lab in [(42, "#ff0000", "Group1"), (89, "#0000ff", "Group2")]:
        shapes.append(dict(type="rect", xref="paper", yref="paper", x0=px(ox + gx), x1=px(ox + gx + 8.5),
                           y0=py(gy + 4.2), y1=py(gy - 4.2), fillcolor=col, line_width=0))
        text(lab, px(ox + gx + 11.5), py(gy), size=10)

# kingdom brackets
shapes.append(dict(type="line", xref="paper", yref="paper", x0=px(1063), x1=px(1063),
                   y0=py(37), y1=py(637), line=dict(color=BACT_COL, width=2)))
shapes.append(dict(type="line", xref="paper", yref="paper", x0=px(1063), x1=px(1063),
                   y0=py(672), y1=py(1270), line=dict(color=FUNGI_COL, width=2)))
text("Bacteria", px(1080), py(338), size=25, color=BACT_COL, xanchor="center", textangle=-90)
text("Fungi", px(1080), py(962), size=25, color=FUNGI_COL, xanchor="center", textangle=-90)

fig.update_layout(width=W, height=H, margin=dict(l=0, r=0, t=0, b=0), showlegend=False,
                  barmode="overlay", plot_bgcolor="white", paper_bgcolor="white",
                  template="none", annotations=annotations, shapes=shapes, **axes)

fig.write_html("out.html")
